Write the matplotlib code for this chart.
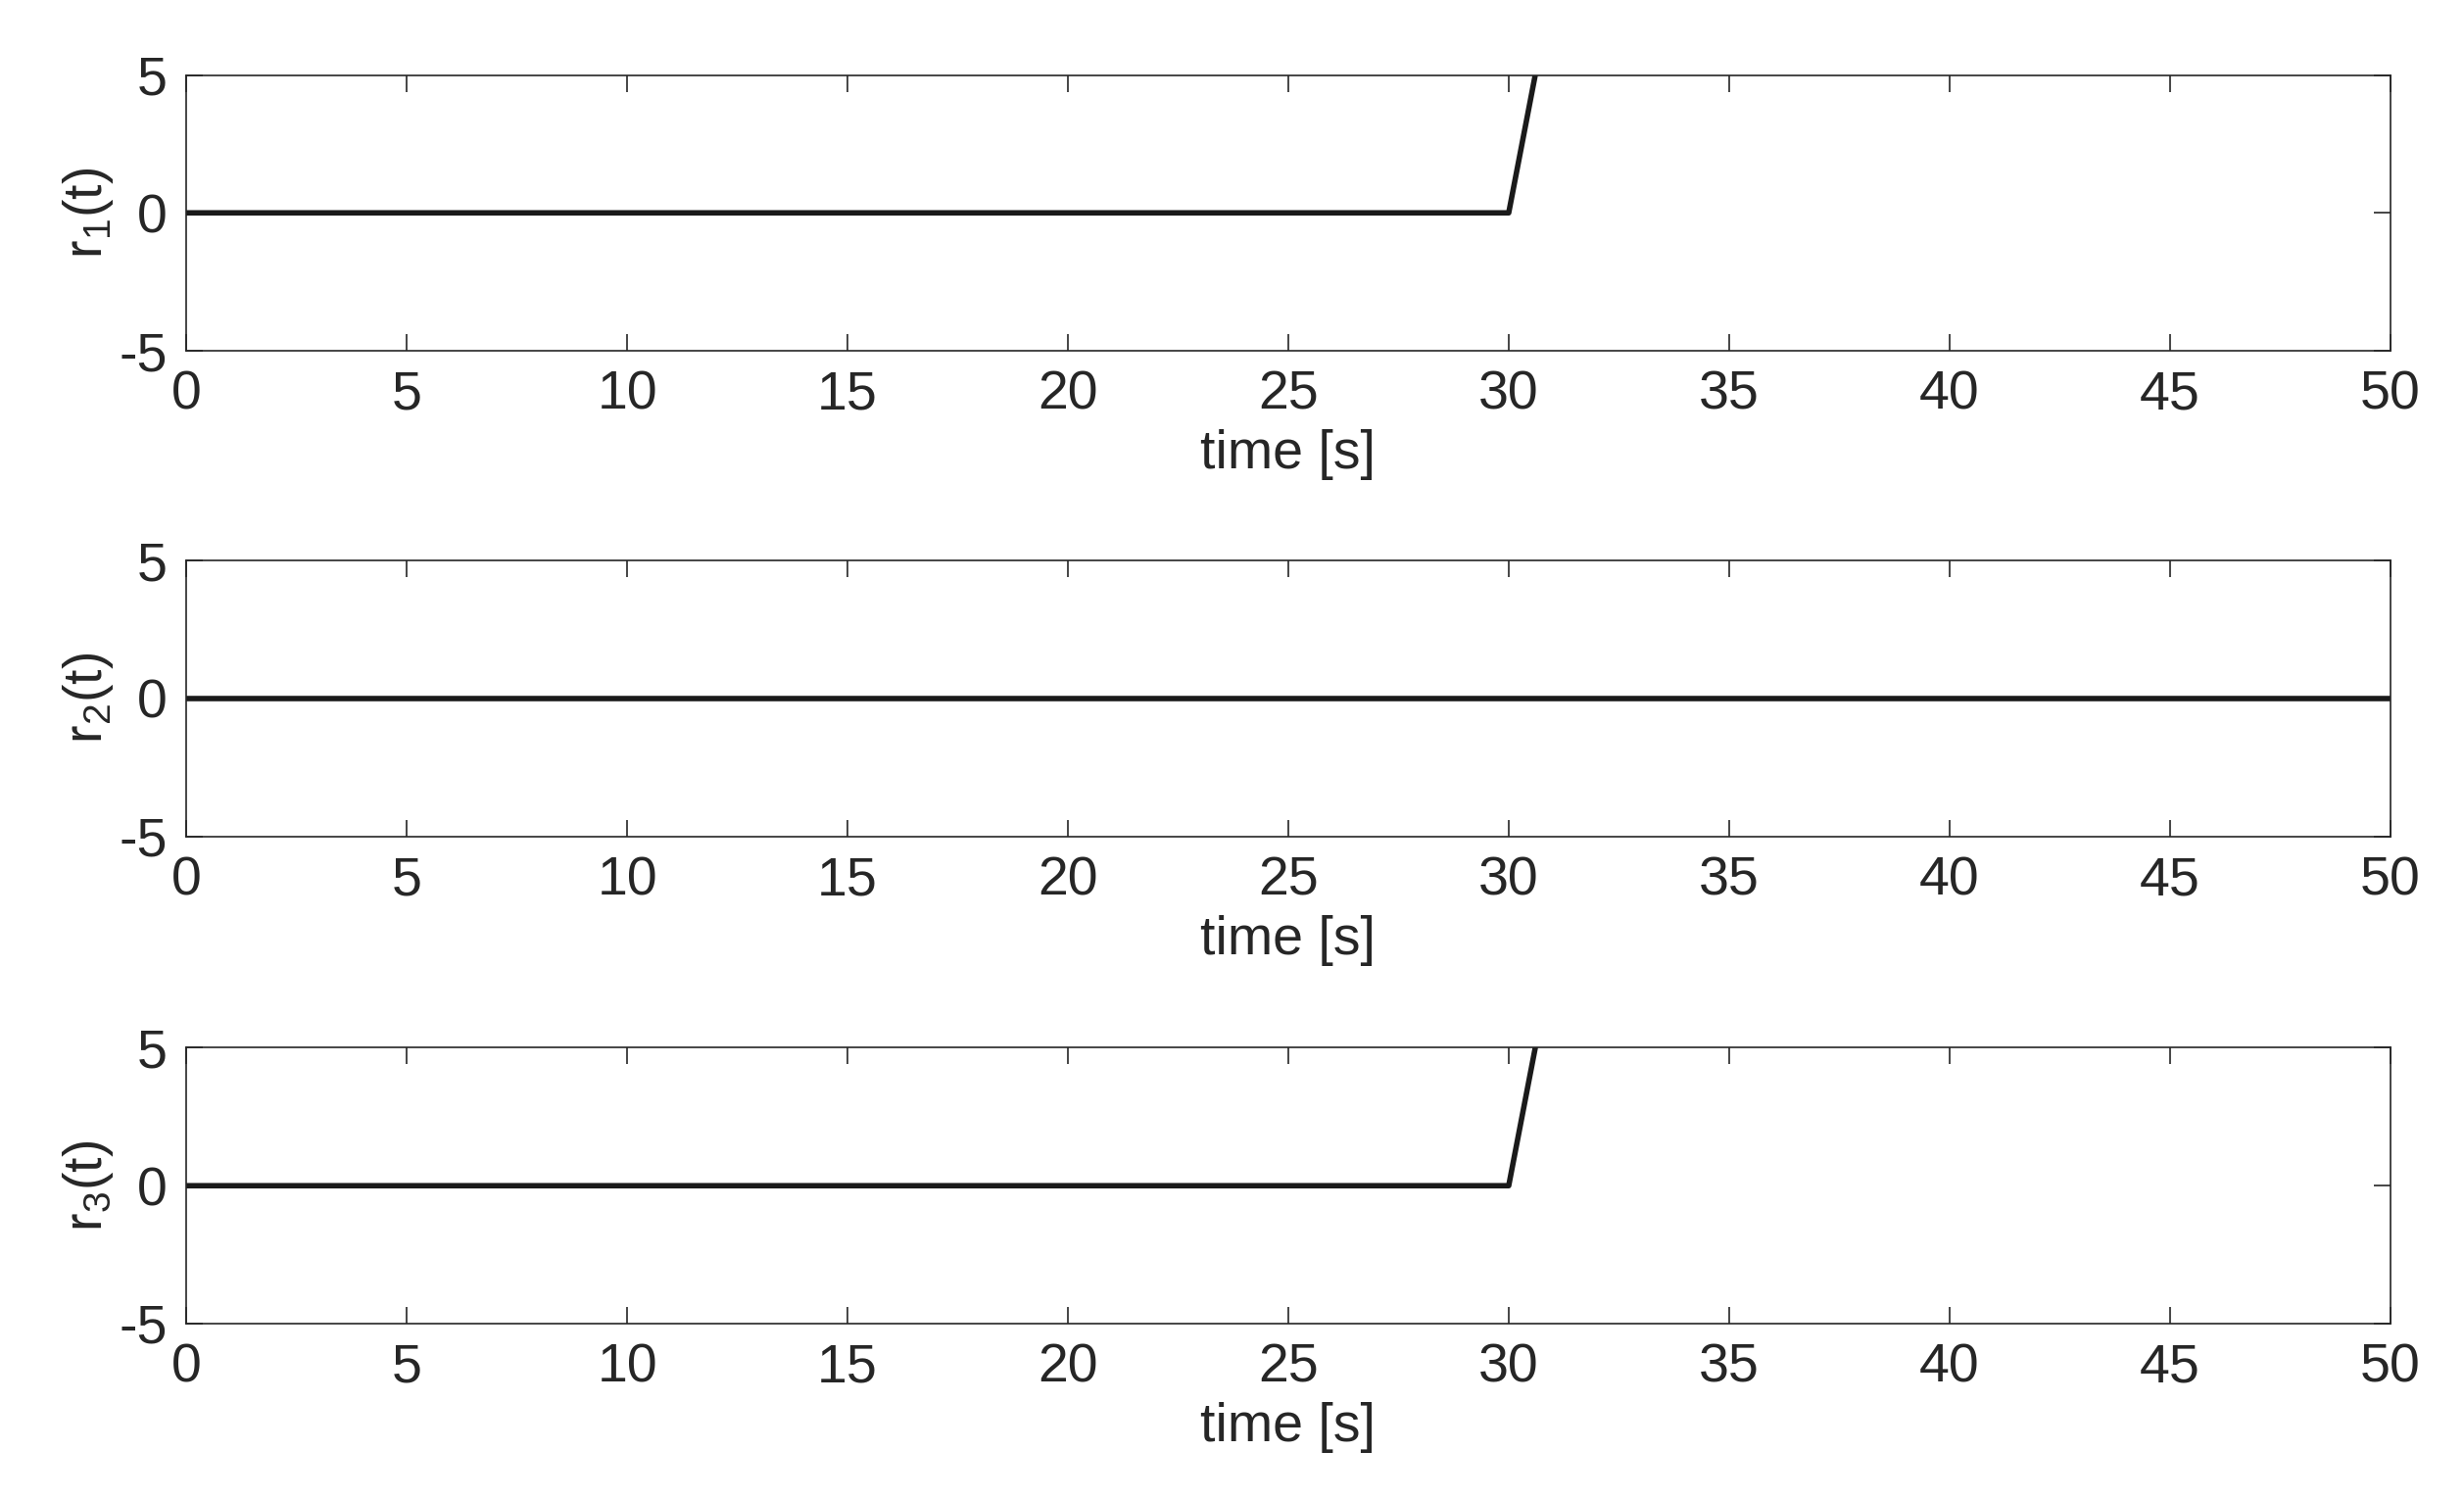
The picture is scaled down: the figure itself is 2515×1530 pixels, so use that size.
import matplotlib.pyplot as plt

# time samples and reference signals
t = [0, 30, 31, 50]
r1 = [0, 0, 8.3, 8.3]
r2 = [0, 0, 0, 0]
r3 = [0, 0, 8.3, 8.3]
signals = [r1, r2, r3]
labels = ['r$_1$(t)', 'r$_2$(t)', 'r$_3$(t)']
xticks = list(range(0, 51, 5))
yticks = [-5, 0, 5]

plt.rcParams['font.family'] = ['Liberation Sans', 'DejaVu Sans']
plt.rcParams['mathtext.fontset'] = 'custom'
plt.rcParams['mathtext.rm'] = 'Liberation Sans'
plt.rcParams['axes.unicode_minus'] = False

fig = plt.figure(figsize=(25.15, 15.3), dpi=100)
bottoms = [0.766, 0.442, 0.117]
for sig, lab, b in zip(signals, labels, bottoms):
    ax = fig.add_axes([0.0756, b, 0.8945, 0.184])
    ax.plot(t, sig, color='#1a1a1a', linewidth=4)
    ax.set_xlim(0, 50)
    ax.set_ylim(-5, 5)
    ax.set_xticks(xticks)
    ax.set_yticks(yticks)
    ax.tick_params(direction='in', top=True, right=True, length=12,
                   width=1.2, colors='#262626', labelsize=40, pad=14)
    for s in ax.spines.values():
        s.set_color('#262626')
        s.set_linewidth(1.2)
    ax.set_xlabel('time [s]', fontsize=40, color='#262626', labelpad=6)
    ax.set_ylabel(lab, fontsize=40, color='#262626', labelpad=2)

fig.savefig('out.png', dpi=100, facecolor='white')
